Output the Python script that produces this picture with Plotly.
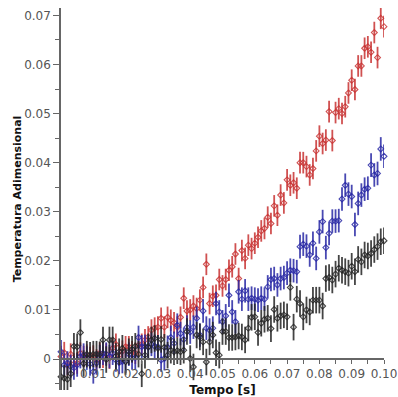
import plotly.graph_objects as go

tempo = [0.000, 0.001, 0.002, 0.003, 0.004, 0.005, 0.006, 0.007, 0.008, 0.009,
         0.010, 0.011, 0.012, 0.013, 0.014, 0.015, 0.016, 0.017, 0.018, 0.019,
         0.020, 0.021, 0.022, 0.023, 0.024, 0.025, 0.026, 0.027, 0.028, 0.029,
         0.030, 0.031, 0.032, 0.033, 0.034, 0.035, 0.036, 0.037, 0.038, 0.039,
         0.040, 0.041, 0.042, 0.043, 0.044, 0.045, 0.046, 0.047, 0.048, 0.049,
         0.050, 0.051, 0.052, 0.053, 0.054, 0.055, 0.056, 0.057, 0.058, 0.059,
         0.060, 0.061, 0.062, 0.063, 0.064, 0.065, 0.066, 0.067, 0.068, 0.069,
         0.070, 0.071, 0.072, 0.073, 0.074, 0.075, 0.076, 0.077, 0.078, 0.079,
         0.080, 0.081, 0.082, 0.083, 0.084, 0.085, 0.086, 0.087, 0.088, 0.089,
         0.090, 0.091, 0.092, 0.093, 0.094, 0.095, 0.096, 0.097, 0.098, 0.099,
         0.100]

temp_vermelho = [0.0005, 0.0013, -0.0012, 0.0010, -0.0010, -0.0008, 0.0012, 0.0005, 0.0008, 0.0003,
                 0.0006, -0.0002, 0.0012, 0.0004, 0.0010, 0.0002, 0.0022, 0.0030, 0.0008, 0.0016,
                 0.0025, 0.0025, 0.0015, 0.0012, 0.0028, 0.0030, 0.0039, 0.0045, 0.0059, 0.0063,
                 0.0065, 0.0083, 0.0065, 0.0085, 0.0079, 0.0074, 0.0065, 0.0085, 0.0124, 0.0098,
                 0.0100, 0.0108, 0.0103, 0.0120, 0.0146, 0.0193, 0.0113, 0.0128, 0.0130, 0.0162,
                 0.0149, 0.0162, 0.0181, 0.0188, 0.0214, 0.0164, 0.0221, 0.0205, 0.0232, 0.0225,
                 0.0236, 0.0248, 0.0261, 0.0266, 0.0289, 0.0276, 0.0312, 0.0293, 0.0334, 0.0318,
                 0.0365, 0.0354, 0.0359, 0.0348, 0.0400, 0.0400, 0.0392, 0.0375, 0.0388, 0.0424,
                 0.0454, 0.0439, 0.0446, 0.0504, 0.0445, 0.0502, 0.0510, 0.0500, 0.0514, 0.0542,
                 0.0568, 0.0549, 0.0597, 0.0597, 0.0633, 0.0636, 0.0625, 0.0665, 0.0614, 0.0694,
                 0.0677]

temp_azul = [0.0015, -0.0012, -0.0008, -0.0015, -0.0018, -0.0012, 0.0005, 0.0008, 0.0002, -0.0010,
             -0.0026, -0.0008, 0.0005, 0.0012, 0.0010, 0.0005, 0.0012, -0.0002, -0.0007, -0.0005,
             -0.0004, 0.0010, 0.0002, 0.0003, 0.0044, 0.0025, 0.0026, 0.0024, 0.0030, 0.0026,
             0.0025, -0.0002, 0.0001, 0.0024, 0.0044, 0.0032, 0.0069, 0.0052, 0.0040, 0.0065,
             0.0055, 0.0065, 0.0083, 0.0049, 0.0098, 0.0063, 0.0059, 0.0063, 0.0113, 0.0096,
             0.0076, 0.0088, 0.0130, 0.0096, 0.0076, 0.0137, 0.0122, 0.0139, 0.0122, 0.0124,
             0.0122, 0.0120, 0.0124, 0.0122, 0.0147, 0.0162, 0.0164, 0.0151, 0.0164, 0.0166,
             0.0175, 0.0181, 0.0180, 0.0178, 0.0229, 0.0234, 0.0230, 0.0212, 0.0236, 0.0205,
             0.0259, 0.0280, 0.0227, 0.0256, 0.0281, 0.0281, 0.0282, 0.0326, 0.0354, 0.0336,
             0.0331, 0.0274, 0.0317, 0.0334, 0.0346, 0.0348, 0.0395, 0.0375, 0.0378, 0.0428,
             0.0413]

temp_preto = [-0.0036, -0.0039, -0.0041, -0.0030, 0.0026, 0.0025, 0.0054, -0.0009, 0.0010, 0.0008,
              0.0010, 0.0010, 0.0009, 0.0039, -0.0001, 0.0039, 0.0039, 0.0006, 0.0015, 0.0022,
              -0.0005, 0.0015, 0.0020, 0.0026, 0.0010, -0.0030, 0.0008, 0.0025, 0.0039, 0.0042,
              0.0022, 0.0040, 0.0024, 0.0008, 0.0018, 0.0015, 0.0017, 0.0015, 0.0018, 0.0056,
              0.0001, -0.0016, 0.0049, 0.0045, 0.0035, -0.0006, 0.0035, 0.0049, 0.0013, 0.0008,
              0.0056, 0.0056, 0.0044, 0.0044, 0.0045, 0.0047, 0.0045, 0.0039, 0.0063, 0.0085,
              0.0086, 0.0054, 0.0073, 0.0081, 0.0083, 0.0062, 0.0101, 0.0083, 0.0088, 0.0090,
              0.0086, 0.0146, 0.0065, 0.0122, 0.0113, 0.0086, 0.0100, 0.0096, 0.0120, 0.0120,
              0.0120, 0.0108, 0.0164, 0.0166, 0.0161, 0.0173, 0.0185, 0.0181, 0.0178, 0.0175,
              0.0189, 0.0178, 0.0203, 0.0198, 0.0212, 0.0210, 0.0215, 0.0223, 0.0229, 0.0239,
              0.0241]

erro_vermelho = 0.0022
erro_azul = 0.0024
erro_preto = 0.0027

x_ticks = [0.01, 0.02, 0.03, 0.04, 0.05, 0.06, 0.07, 0.08, 0.09, 0.10]
y_ticks = [0, 0.01, 0.02, 0.03, 0.04, 0.05, 0.06, 0.07]

Y_MIN, Y_MAX = -0.0063, 0.0715

series = [
    (temp_vermelho, erro_vermelho, "rgba(200,50,50,0.85)"),
    (temp_azul, erro_azul, "rgba(40,40,165,0.85)"),
    (temp_preto, erro_preto, "rgba(35,35,35,0.85)"),
]

fig = go.Figure()
for vals, err, col in series:
    fig.add_trace(go.Scatter(
        x=tempo, y=vals, mode="markers", cliponaxis=False,
        marker=dict(symbol="diamond-open", size=4.5, color=col, line=dict(width=1.1, color=col)),
        error_y=dict(type="constant", value=err, thickness=1.8, width=0, color=col),
        showlegend=False,
    ))

axis_font = dict(family="DejaVu Sans", size=12, color="#555555")
xtitle_font = dict(family="DejaVu Sans", size=12, color="#111111")
ytitle_font = dict(family="DejaVu Sans", size=11, color="#111111")

fig.update_layout(
    width=398, height=397,
    margin=dict(l=61, r=14, t=8, b=7),
    paper_bgcolor="white", plot_bgcolor="white",
    xaxis=dict(
        range=[0, 0.1], anchor="free", position=(0 - Y_MIN) / (Y_MAX - Y_MIN),
        automargin=False,
        showline=True, linecolor="#666666", linewidth=1.5,
        showgrid=False, zeroline=False,
        tickvals=x_ticks, tickformat=".2f", ticks="outside", ticklen=4,
        tickcolor="#666666", tickwidth=1, tickfont=axis_font,
        minor=dict(dtick=0.005, tick0=0, ticks="outside", ticklen=4, tickcolor="#666666", tickwidth=1),
        title=dict(text="<b>Tempo [s]</b>", font=xtitle_font, standoff=5),
    ),
    yaxis=dict(
        range=[Y_MIN, Y_MAX], automargin=False,
        showline=True, linecolor="#666666", linewidth=1.5,
        showgrid=False, zeroline=False,
        tickvals=y_ticks, ticks="outside", ticklen=6,
        tickcolor="#666666", tickwidth=1, tickfont=axis_font,
        minor=dict(dtick=0.005, tick0=0, ticks="outside", ticklen=4, tickcolor="#666666", tickwidth=1),
        title=dict(text="<b>Temperatura Adimensional</b>", font=ytitle_font, standoff=0),
    ),
)

fig.write_html("out.html")
